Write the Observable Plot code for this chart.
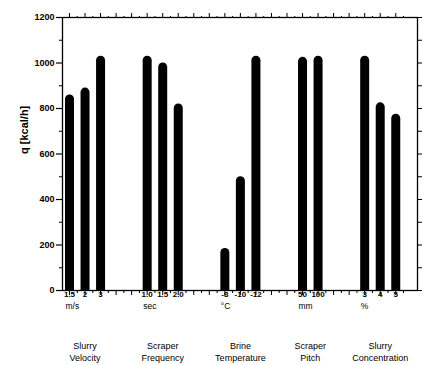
<!DOCTYPE html>
<html>
<head>
<meta charset="utf-8">
<script src="https://cdn.jsdelivr.net/npm/d3@7"></script>
<script src="https://cdn.jsdelivr.net/npm/@observablehq/plot@0.6"></script>
<style>
  html, body { margin: 0; padding: 0; background: #fff; }
  svg { display: block; }
</style>
</head>
<body>
<div id="chart"></div>
<script>
const groups = ["Slurry\nVelocity", "Scraper\nFrequency", "Brine\nTemperature", "Scraper\nPitch", "Slurry\nConcentration"];
const units = ["m/s", "sec", "°C", "mm", "%"];
const levels = [["1.5", "2", "3"], ["1.0", "1.5", "2.0"], ["-8", "-10", "-12"], ["50", "100"], ["3", "4", "5"]];
const qValues = [[840, 870, 1010], [1010, 980, 800], [165, 480, 1010], [1005, 1010], [1010, 805, 755]];
const yTicks = [0, 200, 400, 600, 800, 1000, 1200];

// build slots: bars of each group, then two empty slots between groups
const bars = [];
const groupInfo = [];
let idx = 0;
groups.forEach((name, i) => {
  const first = idx;
  qValues[i].forEach((q, j) => bars.push({slot: idx++, q, level: levels[i][j]}));
  groupInfo.push({name, unit: units[i], first, center: (first + idx - 1) / 2});
  idx += 2;
});
const lastSlot = idx - 3;
const majorX = d3.range(0, lastSlot + 1);
const minorX = d3.range(0.5, lastSlot + 1, 1);

const font = "Arial, 'Liberation Sans', sans-serif";

const chart = Plot.plot({
  width: 430,
  height: 365,
  marginLeft: 62,
  marginRight: 13,
  marginTop: 17,
  marginBottom: 75,
  style: {fontFamily: font, background: "#fff", color: "#000"},
  x: {domain: [-0.45, lastSlot + 1.4], axis: null},
  y: {domain: [0, 1200], axis: null},
  marks: [
    Plot.ruleX(bars, {x: "slot", y1: 0, y2: "q", stroke: "#000", strokeWidth: 9, strokeLinecap: "round", clip: true}),
    Plot.frame({stroke: "#000", strokeWidth: 1.3}),
    // left axis
    Plot.axisY(yTicks, {anchor: "left", tickSize: 6, tickPadding: 2, tickFormat: "d", fontSize: 9, fontWeight: "bold", label: null, strokeWidth: 1.2}),
    Plot.axisY(d3.range(100, 1200, 200), {anchor: "left", tickSize: 3, text: null, label: null}),
    // right axis
    Plot.axisY(d3.range(0, 1201, 100), {anchor: "right", tickSize: 4, text: null, label: null}),
    // top axis
    Plot.axisX(majorX, {anchor: "top", tickSize: 5, text: null, label: null}),
    Plot.axisX(minorX, {anchor: "top", tickSize: 2, text: null, label: null}),
    // bottom axis
    Plot.axisX(majorX, {anchor: "bottom", tickSize: 5, text: null, label: null}),
    Plot.axisX(minorX, {anchor: "bottom", tickSize: 3, text: null, label: null}),
    // level labels
    Plot.text(bars, {x: "slot", text: "level", frameAnchor: "bottom", dy: 6, fontSize: 8, fontWeight: "bold", fill: "#000"}),
    // units
    Plot.text(groupInfo, {x: "first", text: "unit", frameAnchor: "bottom", dy: 18, dx: -4, textAnchor: "start", fontSize: 8.5, fill: "#000"}),
    // group names
    Plot.text(groupInfo, {x: "center", text: "name", frameAnchor: "bottom", dy: 50, lineAnchor: "top", lineHeight: 1.35, fontSize: 9, fill: "#000"}),
    // y label
    Plot.text(["q [kcal/h]"], {frameAnchor: "left", dx: -38, rotate: -90, fontSize: 11, fontWeight: "bold", fill: "#000"})
  ]
});
document.getElementById("chart").append(chart);
</script>
</body>
</html>
